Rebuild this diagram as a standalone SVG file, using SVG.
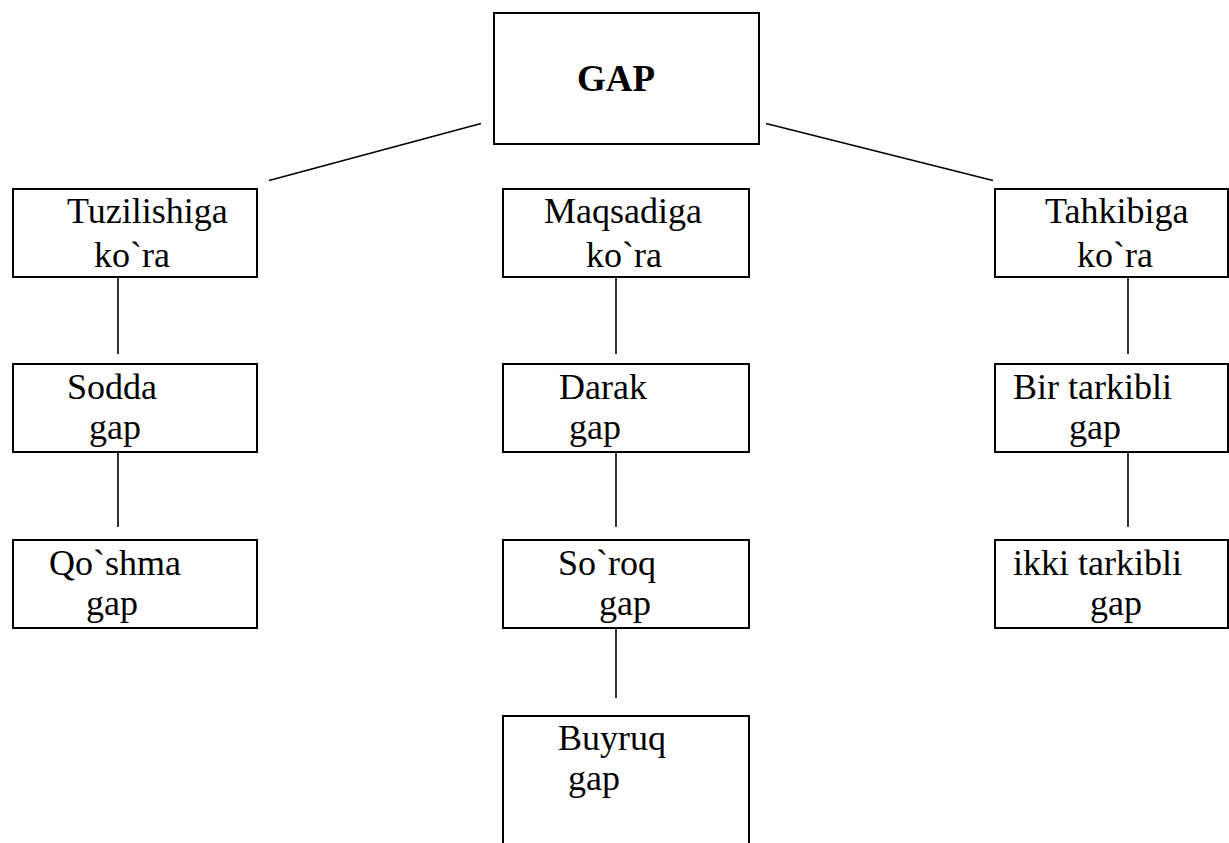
<svg xmlns="http://www.w3.org/2000/svg" width="1229" height="843" viewBox="0 0 1229 843">
<style>
.box{fill:#fff;stroke:#000;stroke-width:2}
.t{font-family:"Liberation Serif","Times New Roman",serif;font-size:36px;fill:#000}
.b{font-weight:bold;font-size:37px}
.c{stroke:#000;stroke-width:1.6;fill:none}
</style>
<rect width="1229" height="843" fill="#fff"/>
<g id="connectors">
<line class="c" x1="269" y1="180.5" x2="481" y2="123.5"/>
<line class="c" x1="766" y1="123.5" x2="993" y2="180.5"/>
<line class="c" x1="118" y1="277" x2="118" y2="354"/>
<line class="c" x1="118" y1="452" x2="118" y2="527"/>
<line class="c" x1="616" y1="277" x2="616" y2="354"/>
<line class="c" x1="616" y1="452" x2="616" y2="527"/>
<line class="c" x1="616" y1="626" x2="616" y2="698"/>
<line class="c" x1="1128" y1="277" x2="1128" y2="354"/>
<line class="c" x1="1128" y1="452" x2="1128" y2="527"/>
</g>
<g id="gap">
<rect class="box" x="494" y="13" width="265" height="131"/>
<text class="t b" x="577" y="91">GAP</text>
</g>
<g id="tuzilishiga">
<rect class="box" x="13" y="189" width="244" height="88"/>
<text class="t" x="67" y="223">Tuzilishiga</text>
<text class="t" x="94" y="267">ko`ra</text>
</g>
<g id="maqsadiga">
<rect class="box" x="503" y="189" width="246" height="88"/>
<text class="t" x="544" y="223">Maqsadiga</text>
<text class="t" x="586" y="267">ko`ra</text>
</g>
<g id="tahkibiga">
<rect class="box" x="995" y="189" width="233" height="88"/>
<text class="t" x="1045" y="223">Tahkibiga</text>
<text class="t" x="1077" y="267">ko`ra</text>
</g>
<g id="sodda">
<rect class="box" x="13" y="364" width="244" height="88"/>
<text class="t" x="67" y="399">Sodda</text>
<text class="t" x="89" y="439">gap</text>
</g>
<g id="darak">
<rect class="box" x="503" y="364" width="246" height="88"/>
<text class="t" x="559" y="399">Darak</text>
<text class="t" x="569" y="439">gap</text>
</g>
<g id="bir">
<rect class="box" x="995" y="364" width="233" height="88"/>
<text class="t" x="1013" y="399">Bir tarkibli</text>
<text class="t" x="1069" y="439">gap</text>
</g>
<g id="qoshma">
<rect class="box" x="13" y="540" width="244" height="88"/>
<text class="t" x="49" y="575">Qo`shma</text>
<text class="t" x="86" y="615">gap</text>
</g>
<g id="soroq">
<rect class="box" x="503" y="540" width="246" height="88"/>
<text class="t" x="558" y="575">So`roq</text>
<text class="t" x="599" y="615">gap</text>
</g>
<g id="ikki">
<rect class="box" x="995" y="540" width="233" height="88"/>
<text class="t" x="1013" y="575">ikki tarkibli</text>
<text class="t" x="1090" y="615">gap</text>
</g>
<g id="buyruq">
<rect class="box" x="503" y="716" width="246" height="160"/>
<text class="t" x="558" y="750">Buyruq</text>
<text class="t" x="568" y="790">gap</text>
</g>
</svg>
